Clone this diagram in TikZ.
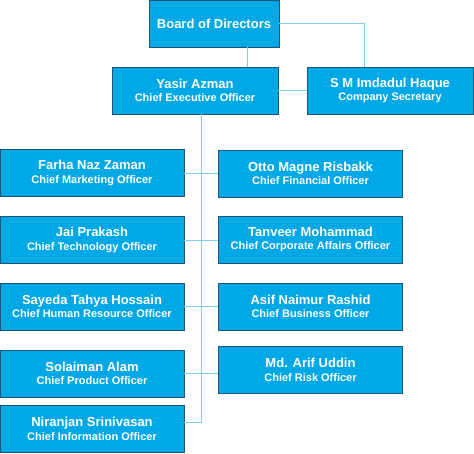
\documentclass[tikz,border=0pt]{standalone}
\usepackage{fontspec}
\setmainfont{Liberation Sans}
\definecolor{boxfill}{HTML}{00A8E6}
\definecolor{boxedge}{HTML}{1F5577}
\definecolor{linkcol}{HTML}{7FCFEA}
\begin{document}
\begin{tikzpicture}[x=1pt,y=-1pt,
  box/.style={draw=boxedge,line width=0.9pt,fill=boxfill,text=white,font=\bfseries,
    minimum height=47pt,align=center,inner sep=0pt},
  wl/.style={box,minimum width=184pt},
  link/.style={draw=linkcol,line width=0.7pt}]
\useasboundingbox (0,0) rectangle (474,453);
\newcommand{\two}[2]{{\fontsize{13}{15}\selectfont #1}\\[1.5pt]{\fontsize{11}{13}\selectfont #2}}
\node[box,minimum width=130pt] (board) at (214,23.5) {\fontsize{13}{15}\selectfont Board of Directors};
\node[box,minimum width=166pt] (yasir) at (195,90.5) {\two{Yasir Azman}{Chief Executive Officer}};
\node[box,minimum width=166pt] (sm) at (390,90.5) {\two{S M Imdadul Haque}{Company Secretary}};
\node[wl] (farha) at (92,173) {\two{Farha Naz Zaman}{Chief Marketing Officer}};
\node[wl] (otto) at (310.5,173.5) {\two{Otto Magne Risbakk}{Chief Financial Officer}};
\node[wl] (jai) at (92,240) {\two{Jai Prakash}{Chief Technology Officer}};
\node[wl] (tanveer) at (310.5,239.5) {\two{Tanveer Mohammad}{Chief Corporate Affairs Officer}};
\node[wl] (sayeda) at (92,306.5) {\two{Sayeda Tahya Hossain}{Chief Human Resource Officer}};
\node[wl] (asif) at (310.5,306.5) {\two{Asif Naimur Rashid}{Chief Business Officer}};
\node[wl] (solaiman) at (92,373.5) {\two{Solaiman Alam}{Chief Product Officer}};
\node[wl] (arif) at (310.5,370) {\two{Md. Arif Uddin}{Chief Risk Officer}};
\node[wl] (niranjan) at (92,429) {\two{Niranjan Srinivasan}{Chief Information Officer}};
% connectors
\coordinate (bx) at (247,0);
\coordinate (smx) at (364,0);
\coordinate (spx) at (201,0);
\coordinate (spend) at (201,422);
\draw[link] (board.south -| bx) -- (yasir.north -| bx);
\draw[link] (board.east) -| (sm.north -| smx);
\draw[link] (yasir.east) -- (sm.west);
\draw[link] (yasir.south -| spx) -- (spend) -- (spend -| niranjan.east);
\draw[link] (farha.east) -- (farha.east -| otto.west);
\draw[link] (jai.east) -- (jai.east -| tanveer.west);
\draw[link] (sayeda.east) -- (sayeda.east -| asif.west);
\draw[link] (solaiman.east) -- (solaiman.east -| arif.west);
\end{tikzpicture}
\end{document}
